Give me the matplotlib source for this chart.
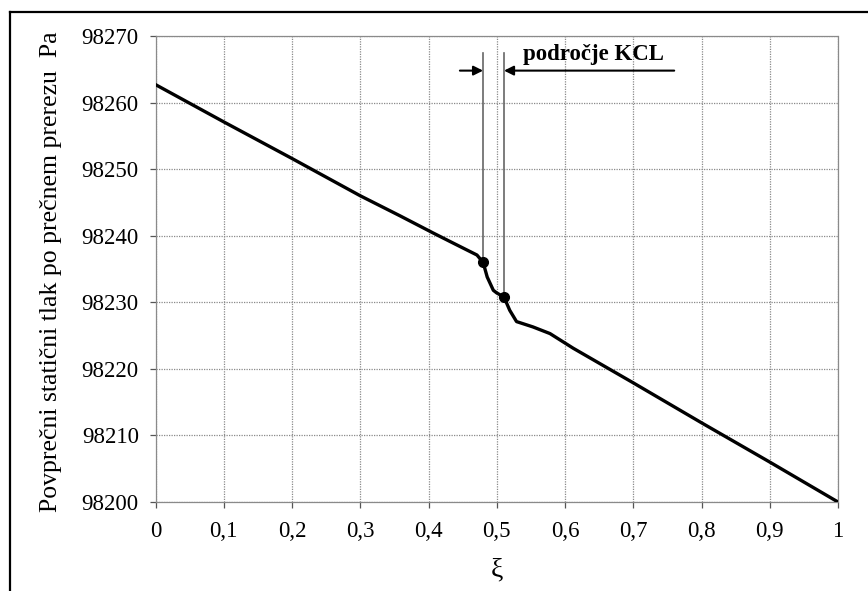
import matplotlib
matplotlib.use("Agg")
import matplotlib.pyplot as plt
from matplotlib.lines import Line2D
from matplotlib.patches import Rectangle

# Data
xi = [0.0, 0.1, 0.2, 0.3, 0.358, 0.407, 0.436, 0.471, 0.480, 0.486, 0.495, 0.500,
      0.5106, 0.519, 0.529, 0.553, 0.578, 0.612, 0.7, 0.8, 0.9, 1.0]
p = [98262.7, 98257.1, 98251.6, 98246.0, 98243.0, 98240.4, 98238.9, 98237.1, 98236.0,
     98233.8, 98231.8, 98231.4, 98230.8, 98228.8, 98227.1, 98226.3, 98225.3, 98223.1,
     98217.9, 98211.9, 98206.0, 98200.0]
dots_x = [0.480, 0.5106]
dots_y = [98236.0, 98230.8]
x_ticks = [0, 0.1, 0.2, 0.3, 0.4, 0.5, 0.6, 0.7, 0.8, 0.9, 1.0]
x_labels = ["0", "0,1", "0,2", "0,3", "0,4", "0,5", "0,6", "0,7", "0,8", "0,9", "1"]
y_ticks = [98200, 98210, 98220, 98230, 98240, 98250, 98260, 98270]

plt.rcParams['font.family'] = ['Liberation Serif', 'DejaVu Serif']

W, H = 868, 591
fig = plt.figure(figsize=(W / 100, H / 100), dpi=100)
ax = fig.add_axes([155.5 / W, 1 - 502 / H, (838 - 155.5) / W, (502 - 36) / H])

gridc = '#8a8a8a'
ax.set_xlim(0, 1)
ax.set_ylim(98200, 98270)
ax.set_xticks(x_ticks)
ax.set_xticklabels(x_labels)
ax.set_yticks(y_ticks)
ax.set_yticklabels([str(v) for v in y_ticks])
ax.grid(True, color=gridc, linestyle=(0, (1, 1)), linewidth=0.9, zorder=0)
for s in ax.spines.values():
    s.set_color(gridc)
    s.set_linestyle((0, (1, 1)))
    s.set_linewidth(0.9)
ax.tick_params(axis='both', colors='#555555', labelcolor='black', labelsize=16.5,
               length=4, width=0.9, direction='out')
ax.tick_params(axis='x', pad=10)
ax.tick_params(axis='y', pad=8)

# white box behind annotation
ax.add_patch(Rectangle((0.44, 98263.3), 0.34, 5.9, facecolor='white', edgecolor='none', zorder=1))

ax.plot(xi, p, color='black', linewidth=2.4, zorder=3, solid_joinstyle='round')
ax.plot(dots_x, dots_y, 'o', color='black', markersize=7, zorder=4)

# vertical marker lines
for xv, yv in zip(dots_x, dots_y):
    ax.plot([xv, xv], [yv, 98267.4], color='#666666', linewidth=1.2, zorder=2)

# arrows
ay = 98264.8
ax.annotate('', xy=(dots_x[0], ay), xytext=(0.446, ay),
            arrowprops=dict(arrowstyle='-|>', color='black', lw=1.5, mutation_scale=14,
                            shrinkA=0, shrinkB=0), zorder=3)
ax.annotate('', xy=(dots_x[1], ay), xytext=(0.760, ay),
            arrowprops=dict(arrowstyle='-|>', color='black', lw=1.5, mutation_scale=14,
                            shrinkA=0, shrinkB=0), zorder=3)
ax.text(0.642, 98265.6, 'področje KCL', ha='center', va='bottom', fontsize=16.5,
        fontweight='bold', zorder=3)

ax.set_ylabel('Povprečni statični tlak po prečnem prerezu  Pa', fontsize=18.5)
ax.yaxis.set_label_coords(-0.137, 0.495)
ax.set_xlabel('ξ', fontsize=20)
ax.xaxis.set_label_coords(0.5, -0.118)

# figure frame (cropped at right and bottom)
fig.add_artist(Line2D([10 / W, 1.0], [1 - 12 / H, 1 - 12 / H], color='black', linewidth=1.6,
                      transform=fig.transFigure))
fig.add_artist(Line2D([10 / W, 10 / W], [0.0, 1 - 12 / H], color='black', linewidth=1.6,
                      transform=fig.transFigure))

fig.savefig('out.png', dpi=100)
